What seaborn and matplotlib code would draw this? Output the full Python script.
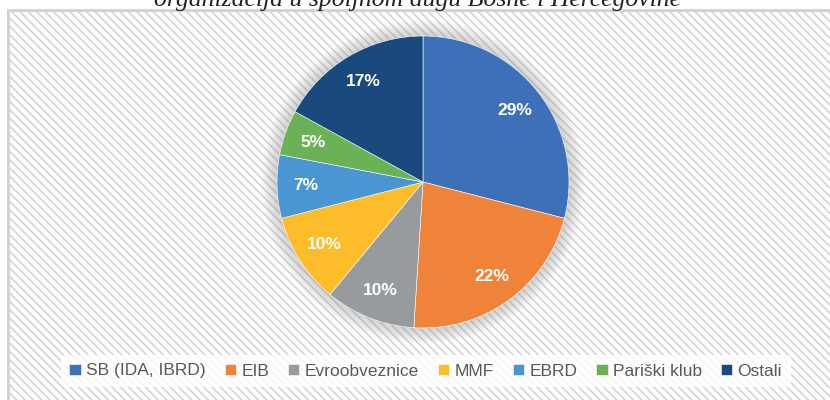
import matplotlib
matplotlib.use("Agg")
import matplotlib.pyplot as plt
import seaborn as sns
from matplotlib.patches import Rectangle, Circle

# udio kreditora u spoljnom dugu (u %)
kreditori = ['SB (IDA, IBRD)', 'EIB', 'Evroobveznice', 'MMF', 'EBRD', 'Pariški klub', 'Ostali']
udio = [29, 22, 10, 10, 7, 5, 17]
boje = ['#3E70BA', '#F0833A', '#989B9E', '#FDBD2A', '#4A96D2', '#6AB255', '#1A4A7D']
naslov = 'organizacija u spoljnom dugu Bosne i Hercegovine'

sns.set_theme(style='white')
plt.rcParams['font.family'] = ['Liberation Sans', 'DejaVu Sans']

W, H = 830, 400
fig = plt.figure(figsize=(W / 100, H / 100), dpi=100)
fig.patch.set_facecolor('white')

# okvir grafikona sa prugastom pozadinom
plt.rcParams['hatch.color'] = '#F1F1F1'
plt.rcParams['hatch.linewidth'] = 1.2
bg = Rectangle((8 / W, -0.05), 1.1, 1 - 10 / H + 0.05, transform=fig.transFigure,
               facecolor='white', edgecolor='#D4D4D4', linewidth=2.2, hatch='\\\\\\\\', zorder=-5)
fig.patches.append(bg)

# naslov (odsječen na vrhu)
fig.text(0.503, 1 - 6 / H, naslov, ha='center', va='baseline', fontsize=18.5,
         family=['Liberation Serif', 'DejaVu Serif'], style='italic', color='#222222')

cx, cy, r = 423, 182, 146
ax = fig.add_axes([(cx - r) / W, (H - cy - r) / H, 2 * r / W, 2 * r / H])
ax.patch.set_alpha(0)

# blaga sjenka oko pite
for i in range(12):
    ax.add_patch(Circle((0, 0), 1.0 + 0.009 * (12 - i), facecolor='#909090',
                        alpha=0.035, edgecolor='none', zorder=0, clip_on=False))

wedges, texts, autotexts = ax.pie(
    udio, colors=boje, startangle=90, counterclock=False, radius=1,
    autopct='%1.0f%%', pctdistance=0.8,
    wedgeprops=dict(edgecolor='white', linewidth=0.4),
    textprops=dict(color='white', fontsize=12.5, fontweight='bold'))
ax.set_xlim(-1, 1)
ax.set_ylim(-1, 1)
ax.set_aspect('equal')
ax.axis('off')

leg = fig.legend(wedges, kreditori, loc='center', bbox_to_anchor=(0.513, 1 - 371 / H),
                 ncol=7, frameon=True, fontsize=12.5, handlelength=0.65, handleheight=0.65,
                 handletextpad=0.3, columnspacing=1.1, borderpad=0.5)
leg.get_frame().set_facecolor('white')
leg.get_frame().set_edgecolor('none')
leg.get_frame().set_alpha(0.8)
for t in leg.get_texts():
    t.set_color('#595959')

fig.savefig('out.png', dpi=100)
